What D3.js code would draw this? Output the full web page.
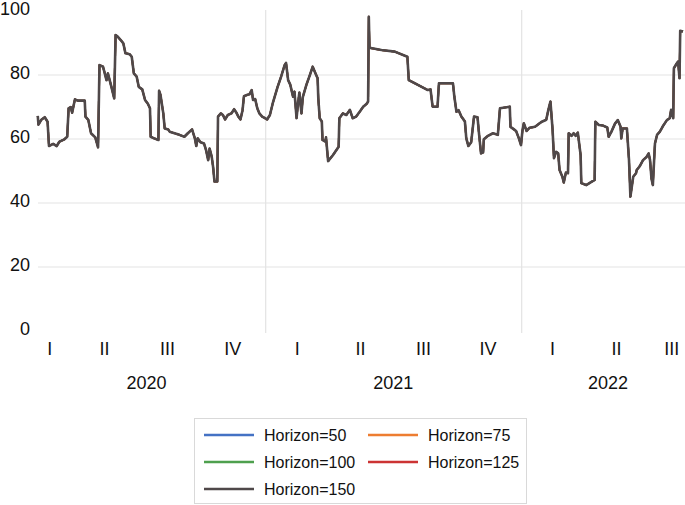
<!DOCTYPE html>
<html>
<head>
<meta charset="utf-8">
<script src="https://cdn.jsdelivr.net/npm/d3@7"></script>
<style>
  body { margin: 0; background: #fff; }
  text { font-family: "Liberation Sans", Arial, sans-serif; fill: #111; }
</style>
</head>
<body>
<div id="main"></div>
<script>

// daily readings (sampled at the turning points)
var dates = [
  "2020-02-11","2020-02-12","2020-02-16","2020-02-21","2020-02-25","2020-02-27","2020-03-04","2020-03-09","2020-03-13","2020-03-20",
  "2020-03-24","2020-03-26","2020-03-29","2020-03-31","2020-04-04","2020-04-08","2020-04-18","2020-04-19","2020-04-23","2020-04-27",
  "2020-05-03","2020-05-07","2020-05-09","2020-05-14","2020-05-16","2020-05-19","2020-05-21","2020-05-24","2020-05-26","2020-05-30",
  "2020-06-01","2020-06-04","2020-06-08","2020-06-12","2020-06-15","2020-06-21","2020-06-24","2020-06-27","2020-07-01","2020-07-04",
  "2020-07-09","2020-07-13","2020-07-17","2020-07-20","2020-07-21","2020-07-26","2020-08-01","2020-08-02","2020-08-04","2020-08-08",
  "2020-08-10","2020-08-15","2020-08-17","2020-08-24","2020-08-31","2020-09-07","2020-09-12","2020-09-18","2020-09-22","2020-09-24",
  "2020-09-26","2020-09-30","2020-10-05","2020-10-08","2020-10-11","2020-10-13","2020-10-16","2020-10-18","2020-10-20","2020-10-24",
  "2020-10-25","2020-10-29","2020-11-01","2020-11-04","2020-11-08","2020-11-13","2020-11-17","2020-11-20","2020-11-23","2020-11-26",
  "2020-11-29","2020-12-01","2020-12-06","2020-12-09","2020-12-12","2020-12-14","2020-12-17","2020-12-20","2020-12-23","2020-12-27",
  "2020-12-31",
  "2021-01-03","2021-01-07","2021-01-11","2021-01-18","2021-01-23","2021-01-28","2021-01-30","2021-02-02","2021-02-05","2021-02-09",
  "2021-02-11","2021-02-14","2021-02-16","2021-02-18","2021-02-21","2021-02-23","2021-02-28","2021-03-05","2021-03-09","2021-03-13",
  "2021-03-16","2021-03-17","2021-03-19","2021-03-22","2021-03-23","2021-03-27","2021-03-28","2021-03-31","2021-04-07","2021-04-15",
  "2021-04-16","2021-04-21","2021-04-26","2021-05-01","2021-05-05","2021-05-10","2021-05-15","2021-05-20","2021-05-25","2021-05-27",
  "2021-05-28","2021-05-29","2021-06-15","2021-07-04","2021-07-22","2021-07-24","2021-08-06","2021-08-20","2021-08-24","2021-08-27",
  "2021-09-03","2021-09-05","2021-09-25","2021-09-27","2021-09-30","2021-10-03","2021-10-07","2021-10-12","2021-10-14","2021-10-17",
  "2021-10-21","2021-10-25","2021-10-30","2021-11-01","2021-11-04","2021-11-07","2021-11-08","2021-11-14","2021-11-21","2021-11-28",
  "2021-12-01","2021-12-15","2021-12-16","2021-12-21","2021-12-24","2021-12-28","2021-12-31",
  "2022-01-02","2022-01-04","2022-01-08","2022-01-12","2022-01-20","2022-01-29","2022-02-05","2022-02-08","2022-02-11","2022-02-14",
  "2022-02-16","2022-02-19","2022-02-22","2022-02-24","2022-02-28","2022-03-02","2022-03-05","2022-03-08","2022-03-09","2022-03-13",
  "2022-03-16","2022-03-19","2022-03-22","2022-03-26","2022-03-27","2022-04-03","2022-04-15","2022-04-16","2022-04-21","2022-04-27",
  "2022-05-03","2022-05-05","2022-05-09","2022-05-14","2022-05-18","2022-05-22","2022-05-23","2022-05-25","2022-05-31","2022-06-03",
  "2022-06-05","2022-06-09","2022-06-13","2022-06-14","2022-06-18","2022-06-23","2022-06-28","2022-07-01","2022-07-03","2022-07-05",
  "2022-07-07","2022-07-10","2022-07-13","2022-07-17","2022-07-21","2022-07-27","2022-07-31","2022-08-02","2022-08-05","2022-08-06",
  "2022-08-10","2022-08-12","2022-08-14","2022-08-15","2022-08-19"
];

var values = [
  67.2,64.5,66,66.8,65.4,57.8,58.5,57.8,59.2,59.9,
  60.7,69.6,70,68.2,72.4,72,72,67,66,61.8,
  60.5,57.4,83.1,82.6,81,78.4,80.5,78,76.3,72.7,
  92.5,92,91,89.9,86.8,86.5,85.7,80.5,79.5,76.3,
  75.5,72.2,71,69.6,60.7,60.2,59.7,75.1,73.8,68,
  63.3,63,62.3,61.8,61.3,60.7,61.8,63,60.2,57.8,
  60.2,59,58.6,56.5,53.4,57,54.5,51.3,46.7,46.7,
  67,68,67.5,66.1,67.5,68,69.3,68.3,67,66.1,
  69,73.4,73.8,74,75.3,72.2,72.5,69.6,68,67,
  66.5,
  66.1,67.5,71.1,76.3,79.5,83.1,83.8,78.4,77,73.2,
  74.8,66.5,71,74.5,68,73.2,76.9,80,82.6,80.5,
  79,72.7,66.5,65.5,59.7,59.2,60.5,53.1,55,57.6,
  66.5,68,67.5,69.1,66.5,67,68.5,70.1,71,71.7,
  98.2,88.5,87.8,87.3,85.7,78.4,76.9,75.3,75.5,70.1,
  70.1,77.4,77.4,73.2,68.5,69,67,65.5,60.2,57.8,
  59,67,66.8,62,55.5,55.8,59.9,61,61.8,61.3,
  69.6,70.1,63.8,63,62.5,60.2,58.1,
  62.5,64.9,62.5,63.5,63.8,65.3,66,69.1,71.7,63,
  54,56,55.5,50.3,48.2,46.4,49.5,49.3,61.8,61,
  61.8,61,62,55,46.2,45.6,47.2,65.4,64.4,64.2,
  63.6,60.7,62.3,64.8,65.9,63.8,60.2,63.3,63.3,53.4,
  42,48.2,49.3,50.3,51.4,53.4,54.4,55.5,53.4,47.7,
  45.6,58.6,61.3,62.3,63.9,65.9,66.5,69.1,66.5,82.1,
  83.6,84.2,79,93.8,93.6
];

var series = ["Horizon=50", "Horizon=75", "Horizon=100", "Horizon=125", "Horizon=150"];
var colors = ["#4472c4", "#ed7d31", "#4ea04e", "#cc3333", "#4f4849"];

var yTicks = [0, 20, 40, 60, 80, 100];
var quarterLabels = ["I","II","III","IV","I","II","III","IV","I","II","III"];
var quarterAt = ["2020-02-28","2020-05-16","2020-08-14","2020-11-15",
                 "2021-02-15","2021-05-16","2021-08-14","2021-11-14",
                 "2022-02-14","2022-05-16","2022-08-03"];
var years = ["2020", "2021", "2022"];
var yearAt = ["2020-07-15", "2021-07-02", "2022-05-04"];
var yearBreaks = ["2021-01-01", "2022-01-01"];

var w = 685, h = 505;
var parse = d3.utcParse("%Y-%m-%d");

var data = dates.map(function(d, i) {
  return { date: parse(d), value: values[i] };
});

var x = d3.scaleUtc()
    .domain([parse("2020-01-01"), parse("2022-01-01")])
    .range([9, 521.7]);
var y = d3.scaleLinear().domain([0, 100]).range([331, 11]);

var svg = d3.select("#main").append("svg")
    .attr("width", w)
    .attr("height", h);

// horizontal grid
svg.selectAll("line.hgrid")
    .data(yTicks.filter(function(t) { return t > 0 && t < 100; }))
    .enter().append("line")
    .attr("class", "hgrid")
    .attr("x1", 38).attr("x2", w)
    .attr("y1", function(d) { return y(d); })
    .attr("y2", function(d) { return y(d); })
    .attr("stroke", "#e3e3e3")
    .attr("stroke-width", 1.2);

// year separators
svg.selectAll("line.vgrid")
    .data(yearBreaks)
    .enter().append("line")
    .attr("class", "vgrid")
    .attr("x1", function(d) { return x(parse(d)); })
    .attr("x2", function(d) { return x(parse(d)); })
    .attr("y1", 10).attr("y2", 333)
    .attr("stroke", "#e3e3e3")
    .attr("stroke-width", 1.2);

// y labels
svg.selectAll("text.ylab")
    .data(yTicks)
    .enter().append("text")
    .attr("class", "ylab")
    .attr("x", 30)
    .attr("y", function(d) { return y(d) + 4; })
    .attr("text-anchor", "end")
    .style("font-size", "18px")
    .text(function(d) { return d; });

// quarter labels
svg.selectAll("text.qlab")
    .data(quarterLabels)
    .enter().append("text")
    .attr("class", "qlab")
    .attr("x", function(d, i) { return x(parse(quarterAt[i])); })
    .attr("y", 355)
    .attr("text-anchor", "middle")
    .style("font-size", "18px")
    .text(function(d) { return d; });

// year labels
svg.selectAll("text.year")
    .data(years)
    .enter().append("text")
    .attr("class", "year")
    .attr("x", function(d, i) { return x(parse(yearAt[i])); })
    .attr("y", 389)
    .attr("text-anchor", "middle")
    .style("font-size", "18px")
    .text(function(d) { return d; });

var line = d3.line()
    .x(function(d) { return x(d.date); })
    .y(function(d) { return y(d.value); });

// all horizons lie on top of each other, 150 drawn last
svg.selectAll("path.series")
    .data(series)
    .enter().append("path")
    .attr("class", "series")
    .attr("d", line(data))
    .attr("fill", "none")
    .attr("stroke", function(d, i) { return colors[i]; })
    .attr("stroke-width", function(d, i) { return i === series.length - 1 ? 2.6 : 1.8; })
    .attr("stroke-linejoin", "round");

// legend
var lg = svg.append("g");
lg.append("rect")
    .attr("x", 194.5).attr("y", 418.5)
    .attr("width", 332).attr("height", 85)
    .attr("fill", "#fff")
    .attr("stroke", "#d9d9d9");

var items = lg.selectAll("g.item")
    .data(series)
    .enter().append("g")
    .attr("transform", function(d, i) {
      return "translate(" + (204 + (i % 2) * 164) + "," + (435 + Math.floor(i / 2) * 27) + ")";
    });

items.append("line")
    .attr("x1", 0).attr("x2", 50)
    .attr("stroke", function(d, i) { return colors[i]; })
    .attr("stroke-width", 2.6);

items.append("text")
    .attr("x", 60)
    .attr("y", 6)
    .style("font-size", "16px")
    .text(function(d) { return d; });

</script>
</body>
</html>
